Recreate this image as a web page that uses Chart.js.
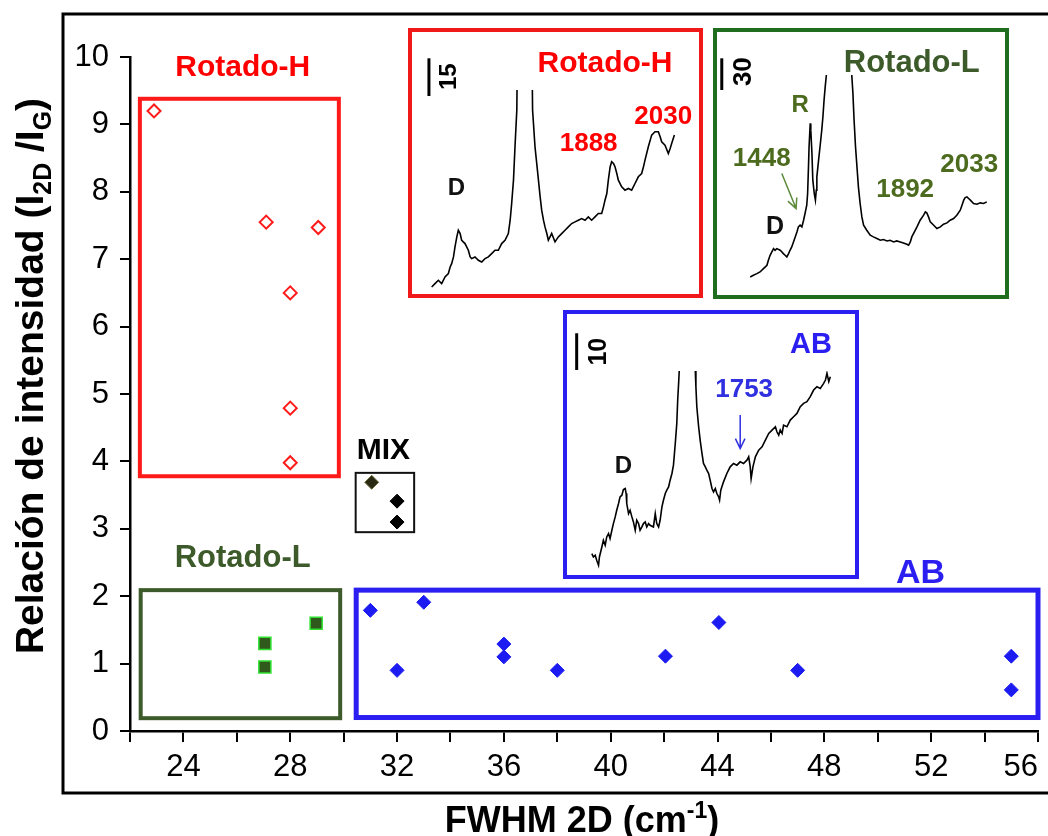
<!DOCTYPE html>
<html>
<head>
<meta charset="utf-8">
<script src="https://cdn.jsdelivr.net/npm/chart.js@4.4.1/dist/chart.umd.min.js"></script>
<style>
  html, body { margin: 0; padding: 0; background: #fff; }
  #wrap { position: relative; width: 1048px; height: 836px; overflow: hidden; }
  #wrap canvas { position: absolute; }
</style>
</head>
<body>
<div id="wrap">
  <canvas id="main" width="1048" height="836" style="left:0;top:0"></canvas>
  <canvas id="insetH" width="295" height="270" style="left:408px;top:28px"></canvas>
  <canvas id="insetL" width="296" height="271" style="left:713px;top:28px"></canvas>
  <canvas id="insetAB" width="296" height="269" style="left:563px;top:310px"></canvas>
</div>
<script>
// FWHM 2D vs I2D/IG scatter, grouped by stacking type
const rotHFwhm = [22.9, 27.1, 29.05, 28.0, 28.0, 28.0];
const rotHRatio = [9.2, 7.55, 7.47, 6.5, 4.79, 3.98];
const rotLFwhm = [27.05, 27.05, 28.97];
const rotLRatio = [1.3, 0.95, 1.6];
const mixFwhm = [31.05, 32.0, 32.0];
const mixRatio = [3.69, 3.41, 3.1];
const abFwhm = [31.0, 33.0, 32.0, 36.0, 36.0, 38.0, 42.05, 44.05, 47.0, 55.0, 55.0];
const abRatio = [1.79, 1.91, 0.9, 1.29, 1.1, 0.9, 1.11, 1.61, 0.9, 1.11, 0.61];

// Raman spectra for the insets (shift in cm-1, intensity in arb. units; G peak runs off scale)
const hShift = [1294,1305,1316,1327,1338,1349,1355,1360,1366,1371,1377,1382,1388,1393,1404,1415,1421,1426,1437,1448,
  1459,1470,1481,1492,1503,1514,1525,1536,1547,1553,1558,1564,1569,1575,1600,1627,1635,1643,1652,1657,
  1663,1668,1674,1679,1690,1701,1712,1723,1734,1745,1756,1767,1778,1789,1800,1811,1822,1833,1844,1855,
  1861,1866,1872,1877,1883,1888,1894,1899,1905,1910,1921,1932,1943,1954,1965,1976,1987,1993,1998,2009,
  2020,2031,2042,2048,2053,2064,2075,2081,2086,2095];
const hInt = [3,4,5,4,6,7,9,10,12,15,18,20,19,17,16,14,12,11.5,12,11,
  10.5,11.5,12,13,14,14,16,17,19,23,28,35,45,56,300,56,45,38,30,26,
  23,21,19,17,19,16.5,18,19,20,21,22,22.5,23,23.5,23,24,23,24,25,25,
  27,29,31,35,39,40.5,40,39,37,35,33,32,32.5,32,34,36,37,39,41,45,
  48.5,49.5,49.5,48,46.5,45.5,43,44.5,46,48.5];

const lShift = [1282,1293,1305,1316,1328,1340,1345,1351,1357,1363,1368,1374,1386,1392,1397,1403,1409,1415,1420,1426,
  1432,1438,1444,1449,1455,1461,1467,1472,1478,1481,1484,1486,1490,1492,1496,1499,1504,1508,1511,1513,
  1519,1524,1530,1534,1538,1542,1546,1592,1634,1638,1642,1647,1652,1657,1663,1669,1675,1686,1698,1709,
  1721,1733,1744,1756,1767,1779,1790,1802,1813,1825,1831,1837,1842,1848,1860,1871,1883,1889,1894,1900,
  1906,1918,1929,1941,1952,1964,1975,1987,1998,2010,2016,2022,2027,2033,2039,2045,2056,2068,2079,2091,2102];
const lInt = [6,6.5,7,7.5,8.5,9.5,11,12.5,13.5,14.5,14,14.5,14,13.5,13,12.5,12,13,14,15,
  16.5,18,19.5,21,21.5,21,23,25,27.5,31,39,45,52,50,43,35,31,29,32,36,
  41,45,50,54,59,63,66.5,300,66.5,61,53,45,39,33,28,24,21.5,20,18.5,18,
  17.5,17,17.2,16.8,17,16.5,16.8,16.5,16.2,15.8,15.5,16.5,18,19,21,23,24.5,25.5,25.2,24,
  22.5,21.5,20.5,21,21.8,22.2,23,23.5,24.5,26,27.5,29,29.8,30,29.5,29,28,27.8,28.2,28,28.5];

const abShift = [1264,1269,1275,1280,1286,1289,1297,1302,1308,1313,1319,1324,1330,1335,1341,1346,1352,1357,1363,1368,
  1374,1377,1379,1385,1390,1396,1401,1407,1412,1418,1423,1429,1434,1440,1445,1451,1456,1467,1473,1478,
  1484,1489,1495,1500,1506,1511,1517,1522,1528,1533,1539,1544,1547,1550,1552,1578,1605,1607,1610,1616,
  1621,1627,1632,1638,1643,1649,1654,1660,1665,1671,1676,1682,1685,1689,1698,1709,1720,1731,1742,1753,
  1764,1775,1781,1786,1789,1795,1803,1814,1825,1836,1847,1858,1869,1874,1880,1885,1891,1896,1907,1918,
  1929,1940,1951,1962,1973,1984,1995,2006,2017,2028,2034,2039,2045,2050];
const abInt = [7,6,6.5,5,3.5,6,9,11,9.5,12,13,11.5,14,16,18,20,22,24,24.5,26.2,
  26.5,25,22,19,20,18,16.5,14,17,16,14,15,16,16.5,15,16,15.5,15,19,16,
  15,17,21,23,25,26,27,29,31,33.5,40,46,53,58,61.7,300,61.7,57,51,45,
  41,37,34,33,32,31,29,26.5,25.5,26.5,25,24,23,26,28.5,31,33,34,33.5,34.5,
  34,35,36,33,29.5,33,36,38,39,41,43,44,45,43.5,42.5,44,43,45.5,45,47,
  48,49,51,52,52.5,54,56,57,56.5,58,59,61,58.5,60];

const FONT = "'Liberation Sans', Arial, sans-serif";
const RED = '#ff0000';
const BLUE = '#2a1ff0';
const OLIVE = '#4d6b1e';
const DARKGREEN = '#3d5a2a';

const pts = (xs, ys) => xs.map((x, i) => ({ x: x, y: ys[i] }));

function drawText(ctx, t, x, y, size, color, rotate) {
    ctx.save();
    ctx.translate(x, y);
    if (rotate) ctx.rotate(-Math.PI / 2);
    ctx.font = `bold ${size}px ${FONT}`;
    ctx.fillStyle = color;
    ctx.textAlign = 'center';
    ctx.textBaseline = 'middle';
    ctx.fillText(t, 0, 0);
    ctx.restore();
}

// text with sub/superscript pieces, centred on (cx, cy)
function drawRich(ctx, parts, cx, cy, size, rotate) {
    ctx.save();
    ctx.translate(cx, cy);
    if (rotate) ctx.rotate(-Math.PI / 2);
    const seg = parts.map(p => {
        const s = p.pos ? size * 0.64 : size;
        ctx.font = `bold ${s}px ${FONT}`;
        return { t: p.t, pos: p.pos, s: s, w: ctx.measureText(p.t).width };
    });
    let x = -seg.reduce((a, p) => a + p.w, 0) / 2;
    ctx.fillStyle = '#000';
    ctx.textAlign = 'left';
    ctx.textBaseline = 'alphabetic';
    const base = size * 0.36;
    seg.forEach(p => {
        ctx.font = `bold ${p.s}px ${FONT}`;
        const dy = p.pos === 'sub' ? size * 0.2 : (p.pos === 'sup' ? -size * 0.38 : 0);
        ctx.fillText(p.t, x, base + dy);
        x += p.w;
    });
    ctx.restore();
}

function drawArrow(ctx, x0, y0, x1, y1, color) {
    const a = Math.atan2(y1 - y0, x1 - x0);
    ctx.save();
    ctx.strokeStyle = color;
    ctx.lineWidth = 1.5;
    ctx.beginPath();
    ctx.moveTo(x0, y0);
    ctx.lineTo(x1, y1);
    ctx.moveTo(x1 - 11 * Math.cos(a - 0.45), y1 - 11 * Math.sin(a - 0.45));
    ctx.lineTo(x1, y1);
    ctx.lineTo(x1 - 11 * Math.cos(a + 0.45), y1 - 11 * Math.sin(a + 0.45));
    ctx.stroke();
    ctx.restore();
}

/**
 * Main chart: group boxes, group labels, frame and axis titles
 */
const groupBoxes = [
    { x0: 22.37, x1: 29.82, y0: 3.78, y1: 9.38, color: '#ff1a1a', w: 4 },
    { x0: 22.4, x1: 29.87, y0: 0.19, y1: 2.09, color: DARKGREEN, w: 4 },
    { x0: 30.45, x1: 32.64, y0: 2.95, y1: 3.83, color: '#111', w: 2 },
    { x0: 30.47, x1: 56.0, y0: 0.2, y1: 2.09, color: BLUE, w: 5 }
];
const groupLabels = [
    { t: 'Rotado-H', x: 26.22, y: 9.84, size: 30, color: RED },
    { t: 'Rotado-L', x: 26.22, y: 2.56, size: 31, color: DARKGREEN },
    { t: 'MIX', x: 31.49, y: 4.16, size: 30, color: '#000' },
    { t: 'AB', x: 51.6, y: 2.34, size: 34, color: BLUE }
];

const mainDecor = {
    id: 'mainDecor',
    beforeDatasetsDraw(chart) {
        const { ctx, scales: { x, y } } = chart;
        ctx.save();
        groupBoxes.forEach(b => {
            const px0 = x.getPixelForValue(b.x0), px1 = x.getPixelForValue(b.x1);
            const py0 = y.getPixelForValue(b.y1), py1 = y.getPixelForValue(b.y0);
            ctx.strokeStyle = b.color;
            ctx.lineWidth = b.w;
            ctx.strokeRect(px0, py0, px1 - px0, py1 - py0);
        });
        ctx.restore();
    },
    afterDraw(chart) {
        const { ctx, scales: { x, y } } = chart;
        groupLabels.forEach(l => drawText(ctx, l.t, x.getPixelForValue(l.x), y.getPixelForValue(l.y), l.size, l.color));
        // outer frame, open on the right side of the picture
        ctx.save();
        ctx.strokeStyle = '#000';
        ctx.lineWidth = 3;
        ctx.strokeRect(63, 14, 1000, 779);
        ctx.restore();
        drawRich(ctx, [{ t: 'Relación de intensidad (I' }, { t: '2D', pos: 'sub' }, { t: ' /I' }, { t: 'G', pos: 'sub' }, { t: ')' }],
            29, 376, 39, true);
        drawRich(ctx, [{ t: 'FWHM 2D (cm' }, { t: '-1', pos: 'sup' }, { t: ')' }], 582, 819, 36, false);
    }
};

new Chart(document.getElementById('main'), {
    type: 'scatter',
    data: {
        datasets: [{
            label: 'Rotado-H',
            data: pts(rotHFwhm, rotHRatio),
            pointStyle: 'rectRot',
            pointRadius: 6.5,
            borderWidth: 2,
            borderColor: '#ff1a1a',
            backgroundColor: '#ffffff'
        }, {
            label: 'Rotado-L',
            data: pts(rotLFwhm, rotLRatio),
            pointStyle: 'rect',
            pointRadius: 8.5,
            borderWidth: 1.5,
            borderColor: '#2ee02e',
            backgroundColor: '#2f5a1c'
        }, {
            label: 'MIX',
            data: pts(mixFwhm, mixRatio),
            pointStyle: 'rectRot',
            pointRadius: 7,
            borderWidth: 1,
            borderColor: ['#6e6e40', '#000000', '#000000'],
            backgroundColor: ['#2a2a12', '#000000', '#000000']
        }, {
            label: 'AB',
            data: pts(abFwhm, abRatio),
            pointStyle: 'rectRot',
            pointRadius: 7,
            borderWidth: 1,
            borderColor: '#1c1cf2',
            backgroundColor: '#1c1cf2'
        }]
    },
    options: {
        responsive: false,
        animation: false,
        layout: { padding: { left: 0, top: 57, right: 8, bottom: 0 } },
        plugins: { legend: { display: false }, tooltip: { enabled: false } },
        scales: {
            x: {
                type: 'linear',
                min: 22,
                max: 56,
                border: { color: '#000', width: 2.5 },
                grid: { drawOnChartArea: false, drawTicks: true, tickLength: 11, color: '#000', lineWidth: 2 },
                ticks: {
                    stepSize: 2,
                    autoSkip: false,
                    maxRotation: 0,
                    align: 'inner',
                    padding: 7,
                    color: '#000',
                    font: { family: FONT, size: 31 },
                    callback: v => (v % 4 === 0 ? v : '')
                },
                afterFit: s => { s.height = 105; s.paddingLeft = 0; s.paddingRight = 0; }
            },
            y: {
                min: 0,
                max: 10,
                border: { color: '#000', width: 2.5 },
                grid: { drawOnChartArea: false, drawTicks: true, tickLength: 10, color: '#000', lineWidth: 2 },
                ticks: {
                    stepSize: 1,
                    padding: 11,
                    color: '#000',
                    font: { family: FONT, size: 31 }
                },
                afterFit: s => { s.width = 130; s.paddingTop = 0; s.paddingBottom = 0; }
            }
        }
    },
    plugins: [mainDecor]
});

/**
 * Inset spectra
 */
function makeInset(id, xs, ys, cfg) {
    const decor = {
        id: 'insetDecor',
        afterDraw(chart) {
            const { ctx, scales: { x, y } } = chart;
            const w = chart.width, h = chart.height;
            ctx.save();
            ctx.strokeStyle = cfg.border;
            ctx.lineWidth = 4;
            ctx.strokeRect(2, 2, w - 4, h - 4);
            // scale bar
            const bx = x.getPixelForValue(cfg.bar.x);
            ctx.strokeStyle = '#000';
            ctx.lineWidth = 3;
            ctx.beginPath();
            ctx.moveTo(bx, y.getPixelForValue(cfg.bar.y0));
            ctx.lineTo(bx, y.getPixelForValue(cfg.bar.y1));
            ctx.stroke();
            ctx.restore();
            drawText(ctx, cfg.bar.t, x.getPixelForValue(cfg.bar.lx), y.getPixelForValue(cfg.bar.ly), cfg.bar.size, '#000', true);
            cfg.labels.forEach(l => drawText(ctx, l.t, x.getPixelForValue(l.x), y.getPixelForValue(l.y), l.size, l.color));
            if (cfg.arrow) {
                const a = cfg.arrow;
                drawArrow(ctx, x.getPixelForValue(a.x0), y.getPixelForValue(a.y0),
                    x.getPixelForValue(a.x1), y.getPixelForValue(a.y1), a.color);
            }
        }
    };
    new Chart(document.getElementById(id), {
        type: 'line',
        data: {
            datasets: [{
                data: pts(xs, ys),
                borderColor: '#000',
                borderWidth: 1.6,
                pointRadius: 0,
                tension: 0,
                clip: 0
            }]
        },
        options: {
            responsive: false,
            animation: false,
            layout: { padding: cfg.pad },
            plugins: { legend: { display: false }, tooltip: { enabled: false } },
            scales: {
                x: { type: 'linear', display: false, min: cfg.xMin, max: cfg.xMax },
                y: { display: false, min: 0, max: cfg.yMax }
            }
        },
        plugins: [decor]
    });
}

makeInset('insetH', hShift, hInt, {
    xMin: 1222.5, xMax: 2182.8, yMax: 62,
    pad: { left: 2, right: 2, top: 62, bottom: 1 },
    border: '#f01818',
    bar: { x: 1285, y0: 60.2, y1: 71.5, t: '15', lx: 1354, ly: 66, size: 24 },
    labels: [
        { t: 'Rotado-H', x: 1866, y: 70, size: 30, color: RED },
        { t: '2030', x: 2058, y: 54, size: 26, color: RED },
        { t: '1888', x: 1812, y: 46, size: 26, color: RED },
        { t: 'D', x: 1376, y: 32.5, size: 24, color: '#111' }
    ]
});

makeInset('insetL', lShift, lInt, {
    xMin: 1160, xMax: 2172, yMax: 66.5,
    pad: { left: 2, right: 2, top: 47, bottom: 2 },
    border: '#1f6e1f',
    bar: { x: 1183.5, y0: 62, y1: 71.5, t: '30', lx: 1258.6, ly: 67.5, size: 26 },
    labels: [
        { t: 'Rotado-L', x: 1842, y: 70, size: 31, color: DARKGREEN },
        { t: 'R', x: 1455, y: 57.5, size: 24, color: OLIVE },
        { t: '1448', x: 1322, y: 41.5, size: 26, color: OLIVE },
        { t: 'D', x: 1368, y: 21, size: 25, color: '#111' },
        { t: '1892', x: 1819, y: 32, size: 26, color: OLIVE },
        { t: '2033', x: 2041, y: 39.5, size: 26, color: OLIVE }
    ],
    arrow: { x0: 1391.5, y0: 37, x1: 1441, y1: 26.5, color: '#5c8a3a' }
});

makeInset('insetAB', abShift, abInt, {
    xMin: 1175.5, xMax: 2138, yMax: 61.7,
    pad: { left: 2, right: 2, top: 61, bottom: 2 },
    border: BLUE,
    bar: { x: 1214, y0: 62, y1: 73, t: '10', lx: 1289, ly: 67.5, size: 25 },
    labels: [
        { t: 'AB', x: 1986, y: 69.5, size: 29, color: BLUE },
        { t: '1753', x: 1766, y: 56, size: 26, color: '#3030e0' },
        { t: 'D', x: 1368, y: 33, size: 24, color: '#111' }
    ],
    arrow: { x0: 1753, y0: 48.5, x1: 1753, y1: 38.5, color: '#3030e0' }
});
</script>
</body>
</html>
